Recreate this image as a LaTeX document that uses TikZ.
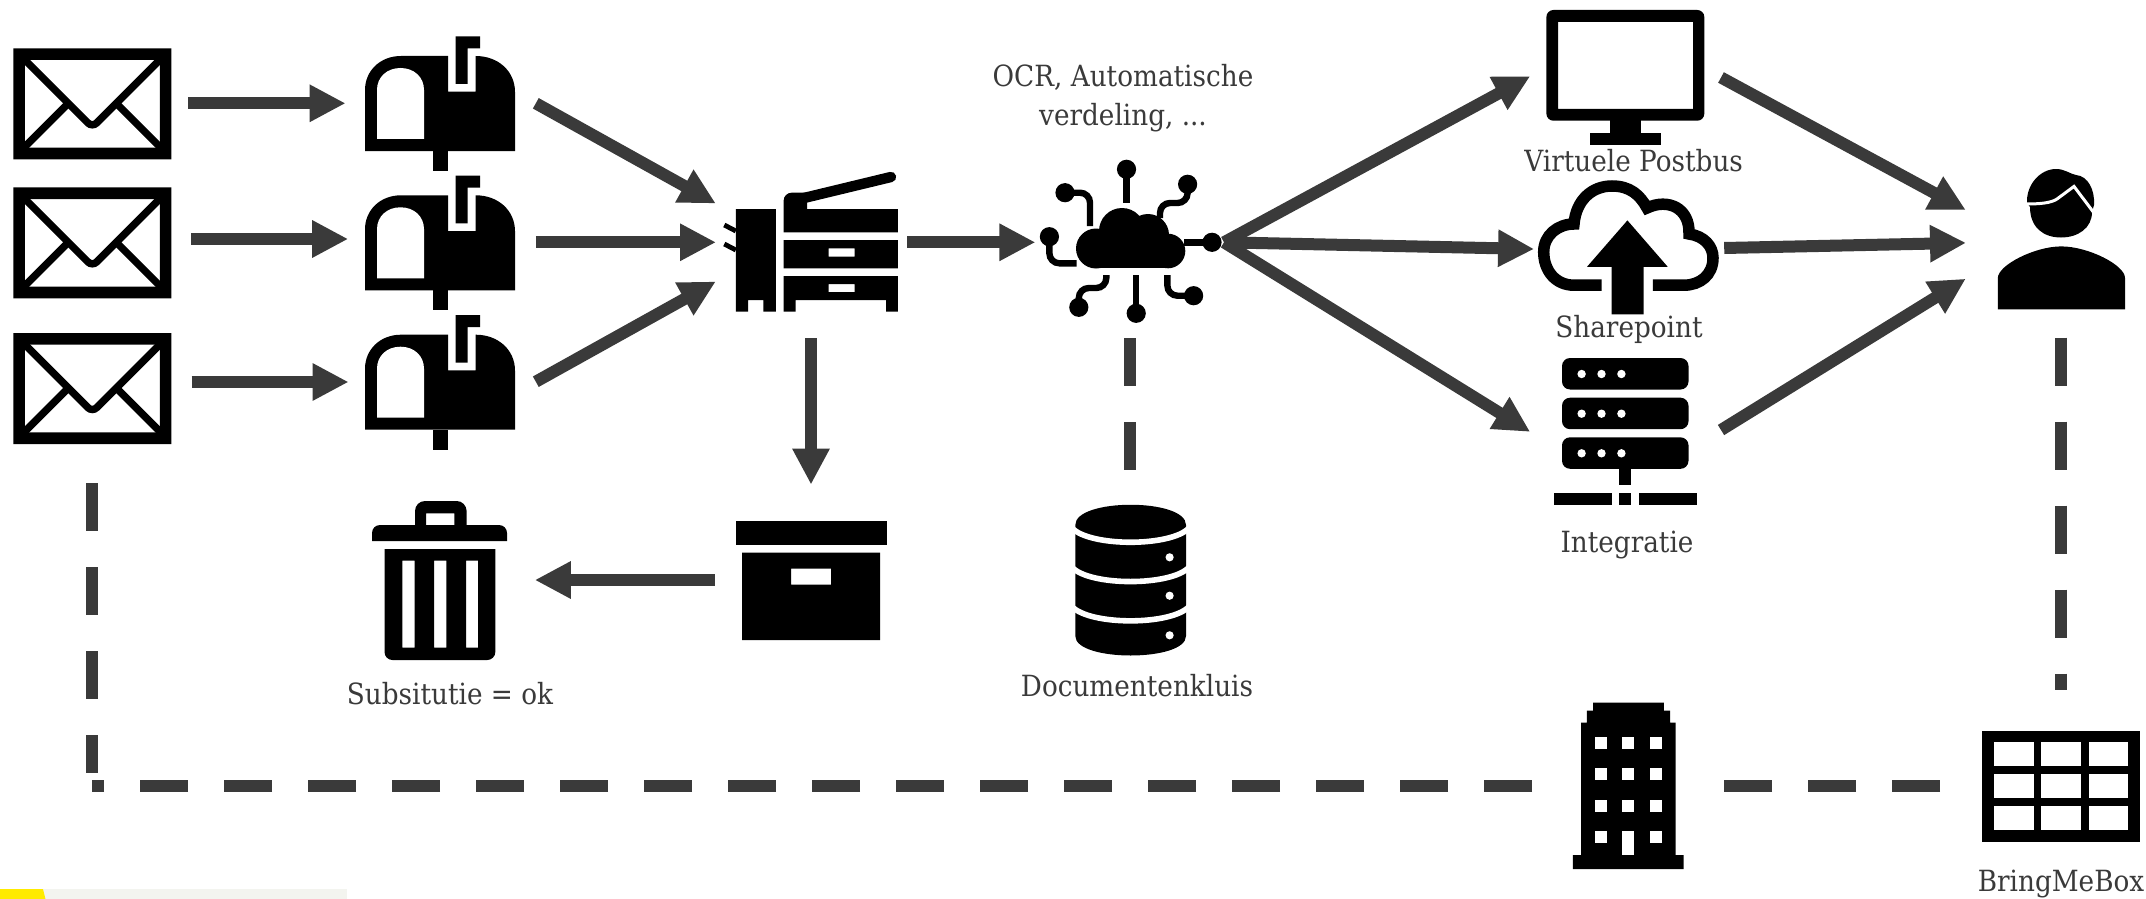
\documentclass[tikz,border=0pt]{standalone}
\usepackage{fontspec}
\setmainfont[FakeStretch=0.9]{DejaVu Serif}
\usepackage{tikz}
\usetikzlibrary{arrows.meta}
\definecolor{linkgray}{HTML}{3A3A3A}
\definecolor{footyellow}{HTML}{FFEB00}
\definecolor{footgray}{HTML}{F3F4EF}
\tikzset{
  link/.style={line width=6pt,linkgray,shorten >=-0.8pt,-{Triangle[length=18pt,width=17.5pt]}},
  dashlink/.style={line width=6pt,linkgray,dash pattern=on 24pt off 18pt},
  lbl/.style={text=linkgray,font=\fontsize{14.6}{19.5}\selectfont,anchor=base,inner sep=0pt,align=center},
  trace/.style={line width=3.2pt,rounded corners=5pt},
  mailicon/.pic={
    \draw [line width=3.7pt,rounded corners=3pt] (10,10) -- (79,79) -- (148,10);
    \draw [line width=3.7pt] (10,100) -- (53,57);
    \draw [line width=3.7pt] (148,100) -- (105,57);
    \fill [even odd rule] (0,0) rectangle (158,111) (11.5,11.7) rectangle (146.5,99.3);
  },
  boxicon/.pic={
    \fill (0,95) -- (0,34) .. controls (0,15) and (15,0) .. (36,0) -- (83,0) -- (83,35.7)
      -- (110.7,35.7) -- (110.7,0) .. controls (133,0) and (150,15) .. (150,36) -- (150,95) -- cycle;
    \fill [white] (12,83) -- (12,34) .. controls (12,21) and (22,12) .. (35.5,12)
      .. controls (49,12) and (59,21) .. (59,34) -- (59,83) -- cycle;
    \fill (67.5,95) rectangle (83,115);
    \fill (90.5,28) -- (90.5,-19.7) -- (115,-19.7) -- (115,-7.7) -- (102.5,-7.7) -- (102.5,28) -- cycle;
  }
}

\begin{document}
\begin{tikzpicture}[x=0.5pt,y=-0.5pt,line cap=butt]

  \useasboundingbox (0,0) rectangle (2146,899);

  \fill [footgray] (0,889) rectangle (347,899);
  \fill [footyellow] (0,889) -- (43,889) -- (45.5,899) -- (0,899) -- cycle;

  \foreach \ypos in {48.3,187.3,333} \pic at (13.3,\ypos) {mailicon};
  \foreach \ypos in {56,195.3,334.7} \pic at (365,\ypos) {boxicon};

  % copier
  \fill (735.8,209) -- (775.8,209) -- (775.8,311.7) -- (763.4,311.7) -- (763.4,300) -- (748,300)
    -- (748,311.7) -- (735.8,311.7) -- cycle;
  \draw [line width=2.4pt] (724.3,225) -- (735.8,231);
  \draw [line width=2.4pt] (724.3,244) -- (735.8,250);
  \fill (783.6,232.3) [rounded corners=4pt] -- (783.6,192.7) [sharp corners] -- (807,192.7) -- (807,209)
    -- (897.9,209) -- (897.9,232.3) -- cycle;
  \draw [line width=5.2pt,line cap=round] (804,198) -- (891,177);
  \fill [even odd rule] (783.6,240) rectangle (897.9,268.3) (828.6,248.3) rectangle (854.7,256.7);
  \fill [even odd rule] (783.6,276) -- (897.9,276) -- (897.9,311.7) -- (886,311.7) -- (886,300)
    -- (795.5,300) -- (795.5,311.7) -- (783.6,311.7) -- cycle (828.6,284) rectangle (854.7,292);

  % cloud with circuit
  \fill (1096,248.5) circle (20);
  \fill (1122,231) circle (23);
  \fill (1148,235) circle (21);
  \fill (1168,251) circle (17.3);
  \fill (1096,240) rectangle (1168,268.3);
  \foreach \xpos/\ypos in {1126.5/169.3,1065/192.7,1187.6/184.3,1049.4/236.7,1212/242.3,1078.8/307.3,1136.2/313.3,1193.6/295.7}
    \fill (\xpos,\ypos) circle (9.6);
  \draw [trace] (1126.5,169.3) -- (1126.5,203);
  \draw [trace] (1065,192.7) -- (1090,192.7) -- (1090,226);
  \draw [trace] (1187.6,184.3) -- (1187.6,203) -- (1160,203) -- (1160,218);
  \draw [trace] (1049.4,236.7) -- (1049.4,263.3) -- (1076.5,263.3);
  \draw [trace] (1212,242.3) -- (1184.4,242.3);
  \draw [trace] (1078.8,307.3) -- (1078.8,288) -- (1106.3,288) -- (1106.3,275);
  \draw [trace] (1136.2,313.3) -- (1136.2,275);
  \draw [trace] (1193.6,295.7) -- (1167.4,295.7) -- (1167.4,275);

  % monitor
  \fill [even odd rule,rounded corners=3.5pt] (1546.4,10) rectangle (1704.3,120.7)
    [sharp corners] (1558,22) rectangle (1693,109);
  \fill (1609.8,120) rectangle (1640.8,133);
  \fill (1590,133) rectangle (1661,144.6);

  % upload cloud
  \draw [line width=5.75pt] (1601.5,285.2) -- (1574,285.2)
    .. controls (1555,285.2) and (1543.7,270) .. (1543.7,252)
    .. controls (1543.7,235) and (1558,224) .. (1574,224)
    .. controls (1576,200) and (1592,186) .. (1612,186)
    .. controls (1630,186) and (1640,195) .. (1647,208)
    .. controls (1668,198) and (1690,208) .. (1689,234)
    .. controls (1704,236) and (1713,246) .. (1713,258)
    .. controls (1713,275) and (1700,285.2) .. (1684,285.2) -- (1652.9,285.2);
  \fill (1627.4,220.4) -- (1667.7,266.8) -- (1643.6,266.8) -- (1643.6,314.3) -- (1611.7,314.3)
    -- (1611.7,266.8) -- (1587,266.8) -- cycle;

  % server
  \foreach \ypos in {358,397.7,437.3} {
    \fill [rounded corners=4pt] (1562,\ypos) rectangle (1688.5,\ypos+31.5);
    \foreach \xpos in {1581.6,1601.5,1621.4} \fill [white] (\xpos,\ypos+16) circle (4.2);
  }
  \fill (1619,469) rectangle (1631,485);
  \fill (1553.8,492.9) rectangle (1611.7,505);
  \fill (1619,492.9) rectangle (1631,505);
  \fill (1639,492.9) rectangle (1696.9,505);

  % person
  \fill (2027,203) .. controls (2026,185) and (2040,169) .. (2056,169) .. controls (2065,169) and (2070,174) .. (2076,175)
    .. controls (2088,176) and (2095,190) .. (2094,205) -- (2092,212) .. controls (2092,228) and (2078,237.5) .. (2061,237.5)
    .. controls (2044,237.5) and (2030,228) .. (2030,207) -- cycle;
  \draw [white,line width=1.5pt] (2026,204) .. controls (2040,204) and (2051,203) .. (2057,199) -- (2074,186.4) -- (2094,213);
  \fill (1997.8,309.3) -- (1997.8,278) .. controls (1998,265) and (2035,246.4) .. (2061.2,246.4)
    .. controls (2088,246.4) and (2125,265) .. (2125,278) -- (2125,309.3) -- cycle;

  % archive box
  \fill (736,521) rectangle (887.3,544.7);
  \fill [even odd rule] (742,552.7) rectangle (880,640) (791,568.7) rectangle (831,584.7);

  % trash
  \fill [even odd rule] (415,525) [rounded corners=5pt] -- (415,501) -- (466.6,501) [sharp corners] -- (466.6,525) -- cycle
    (426,513.3) rectangle (454.3,525);
  \fill (372,541) [rounded corners=4pt] -- (372,525) -- (507,525) [sharp corners] -- (507,541) -- cycle;
  \fill [even odd rule] (384.5,549) [rounded corners=4pt] -- (384.5,660) -- (495.3,660) [sharp corners] -- (495.3,549) -- cycle
    (402.3,560.7) rectangle (414.5,647.7) (434,560.7) rectangle (446.4,647.7) (466,560.7) rectangle (478.2,647.7);

  % vault
  \fill (1075.3,525) .. controls (1075.3,498) and (1186,498) .. (1186,525) -- (1186,636)
    .. controls (1186,662) and (1075.3,662) .. (1075.3,636) -- cycle;
  \foreach \ypos in {528,567.3,606.6} {
    \draw [white,line width=2.8pt] (1072,\ypos) .. controls (1090,\ypos+19) and (1171,\ypos+19) .. (1189,\ypos);
  }
  \foreach \ypos in {557.3,595.7,635.3} \fill [white] (1169.6,\ypos) circle (4.1);

  % building
  \fill (1572.8,869) -- (1572.8,855) -- (1581,855) -- (1581,722.7) -- (1586.8,722.7) -- (1586.8,710.7) -- (1593,710.7)
    -- (1593,702.7) -- (1663.8,702.7) -- (1663.8,710.7) -- (1670,710.7) -- (1670,722.7) -- (1675.7,722.7)
    -- (1675.7,855) -- (1683.5,855) -- (1683.5,869) -- cycle;
  \foreach \xpos in {1594.7,1622.2,1649.8} {
    \foreach \ypos in {736.7,768.3,799.7,831.3} \fill [white] (\xpos,\ypos) rectangle (\xpos+11.9,\ypos+11.8);
  }
  \fill [white] (1622.2,831.3) rectangle (1634.1,855);

  % grid
  \fill (1982,730.7) rectangle (2140,841.7);
  \foreach \xpos in {1993.8,2041,2088.5} {
    \foreach \ypos in {742.3,774,805.7} \fill [white] (\xpos,\ypos) rectangle (\xpos+39.8,\ypos+24);
  }

  \coordinate (mailout1) at (188,103.3);
  \coordinate (mailout2) at (191,239);
  \coordinate (mailout3) at (191.5,382);
  \coordinate (boxin1) at (344,103.3);
  \coordinate (boxin2) at (346.6,239);
  \coordinate (boxin3) at (347,382);
  \coordinate (boxout1) at (535.8,103.3);
  \coordinate (boxout2) at (535.8,242.3);
  \coordinate (boxout3) at (535.8,381.7);
  \coordinate (copyin1) at (714.4,202.7);
  \coordinate (copyin2) at (714.4,242.3);
  \coordinate (copyin3) at (714.4,282.3);
  \coordinate (copyout) at (907,242.3);
  \coordinate (cloudin) at (1033.8,242.3);
  \coordinate (copydown) at (811,338);
  \coordinate (archivein) at (811,483);
  \coordinate (archiveout) at (714.6,580);
  \coordinate (trashin) at (536.4,580);
  \coordinate (cloudout) at (1224,242.3);
  \coordinate (monitorin) at (1528.8,77);
  \coordinate (shareptin) at (1532.5,249);
  \coordinate (serverin) at (1528.8,431);
  \coordinate (monitorout) at (1721,77.5);
  \coordinate (shareptout) at (1724.2,248);
  \coordinate (serverout) at (1721,430);
  \coordinate (personin1) at (1964.4,209.3);
  \coordinate (personin2) at (1964.4,242.9);
  \coordinate (personin3) at (1964.4,279.6);
  \coordinate (cloudbottom) at (1130.2,338);
  \coordinate (vaulttop) at (1130.2,470);
  \coordinate (personbottom) at (2061.2,337.5);
  \coordinate (gridtop) at (2061.2,690);
  \coordinate (gridleft) at (1940,785.5);
  \coordinate (buildingright) at (1724,785.5);
  \coordinate (buildingleft) at (1532,785.5);
  \coordinate (corner) at (92,785.5);
  \coordinate (cornertop) at (92,773);
  \coordinate (mailbottom) at (92,483);

  \foreach \from/\to in {mailout1/boxin1,mailout2/boxin2,mailout3/boxin3,
    boxout1/copyin1,boxout2/copyin2,boxout3/copyin3,copyout/cloudin,
    copydown/archivein,archiveout/trashin,cloudout/monitorin,cloudout/shareptin,
    cloudout/serverin,monitorout/personin1,shareptout/personin2,serverout/personin3}
    \draw [link] (\from) -- (\to);

  \foreach \from/\to in {cloudbottom/vaulttop,personbottom/gridtop,gridleft/buildingright,
    buildingleft/corner,mailbottom/cornertop}
    \draw [dashlink] (\from) -- (\to);

  \node [lbl] (ocrtext) at (1123,125.7) {OCR, Automatische\\verdeling, ...};
  \node [lbl] (postbustext) at (1633.6,171.5) {Virtuele Postbus};
  \node [lbl] (sharepointtext) at (1629,337.5) {Sharepoint};
  \node [lbl] (integratietext) at (1627,552.5) {Integratie};
  \node [lbl] (substitutietext) at (450,704.5) {Subsitutie = ok};
  \node [lbl] (kluistext) at (1137,696.5) {Documentenkluis};
  \node [lbl] (bringtext) at (2061,891.7) {BringMeBox};

\end{tikzpicture}
\end{document}
